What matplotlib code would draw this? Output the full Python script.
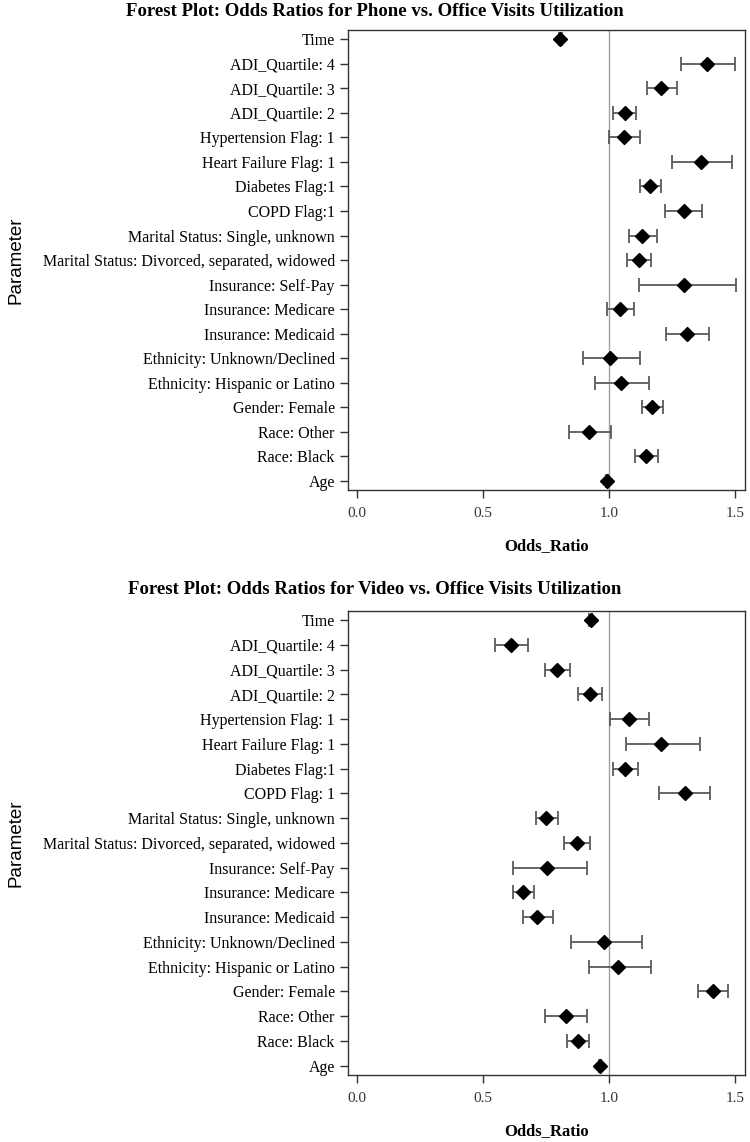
import numpy as np
import matplotlib
matplotlib.use("Agg")
import matplotlib.pyplot as plt

# parameters, top to bottom as shown
params = ["Time", "ADI_Quartile: 4", "ADI_Quartile: 3", "ADI_Quartile: 2",
          "Hypertension Flag: 1", "Heart Failure Flag: 1", "Diabetes Flag:1",
          "COPD Flag:1", "Marital Status: Single, unknown",
          "Marital Status: Divorced, separated, widowed", "Insurance: Self-Pay",
          "Insurance: Medicare", "Insurance: Medicaid",
          "Ethnicity: Unknown/Declined", "Ethnicity: Hispanic or Latino",
          "Gender: Female", "Race: Other", "Race: Black", "Age"]
params_video = list(params)
params_video[7] = "COPD Flag: 1"

# phone vs office
phone_or = [0.807, 1.390, 1.208, 1.062, 1.058, 1.367, 1.162, 1.296, 1.131, 1.117,
            1.298, 1.044, 1.308, 1.003, 1.046, 1.172, 0.919, 1.147, 0.992]
phone_lo = [0.800, 1.287, 1.150, 1.016, 1.000, 1.250, 1.121, 1.224, 1.078, 1.070,
            1.119, 0.990, 1.225, 0.897, 0.946, 1.132, 0.841, 1.102, 0.988]
phone_hi = [0.814, 1.502, 1.270, 1.109, 1.122, 1.490, 1.208, 1.368, 1.189, 1.166,
            1.505, 1.098, 1.397, 1.123, 1.159, 1.214, 1.007, 1.194, 0.996]

# video vs office
video_or = [0.927, 0.609, 0.795, 0.923, 1.081, 1.205, 1.064, 1.300, 0.751, 0.871,
            0.752, 0.657, 0.715, 0.980, 1.035, 1.412, 0.828, 0.877, 0.964]
video_lo = [0.920, 0.548, 0.747, 0.877, 1.004, 1.066, 1.017, 1.200, 0.708, 0.821,
            0.618, 0.617, 0.658, 0.850, 0.919, 1.353, 0.746, 0.833, 0.960]
video_hi = [0.934, 0.679, 0.845, 0.971, 1.160, 1.362, 1.114, 1.402, 0.797, 0.924,
            0.913, 0.700, 0.776, 1.130, 1.166, 1.473, 0.914, 0.922, 0.968]

serif = ["Liberation Serif", "DejaVu Serif"]

fig = plt.figure(figsize=(7.5, 11.42), dpi=100)
ax1 = fig.add_axes([0.464, 0.5709, 0.529, 0.4028])
ax2 = fig.add_axes([0.464, 0.0587, 0.529, 0.4065])

def forest(ax, labels, orr, lo, hi, title, title_y):
    n = len(labels)
    y = np.arange(n)[::-1]
    orr, lo, hi = np.array(orr), np.array(lo), np.array(hi)
    ax.axvline(1.0, color="#a0a0a0", lw=1.0, zorder=1)
    ax.errorbar(orr, y, xerr=[orr - lo, hi - orr], fmt="none", ecolor="#5a5a5a",
                elinewidth=1.3, capsize=5, capthick=1.3, zorder=2)
    ax.plot(orr, y, "D", color="black", ms=7.5, zorder=3)
    ax.set_ylim(-0.38, n - 1 + 0.38)
    ax.set_xlim(-0.037, 1.539)
    ax.set_yticks(y)
    ax.set_yticklabels(labels, fontfamily=serif, fontsize=11.5)
    ax.set_xticks([0.0, 0.5, 1.0, 1.5])
    ax.set_xticklabels(["0.0", "0.5", "1.0", "1.5"], fontfamily=serif, fontsize=11,
                       color="#333333")
    ax.tick_params(direction="out", length=6, width=1, color="#333333")
    ax.tick_params(axis="x", pad=6)
    for s in ax.spines.values():
        s.set_color("#333333")
        s.set_linewidth(1.0)
    ax.set_xlabel("Odds_Ratio", fontfamily=serif, fontsize=12, fontweight="bold",
                  labelpad=13)
    ax.set_ylabel("Parameter", fontfamily=["Liberation Sans", "DejaVu Sans"],
                  fontsize=13.5, va="center")
    ax.yaxis.set_label_coords(-0.838, 0.5)
    fig.text(0.5, title_y, title, fontfamily=serif, fontsize=13.5,
             fontweight="bold", ha="center", va="center")

forest(ax1, params, phone_or, phone_lo, phone_hi,
       "Forest Plot: Odds Ratios for Phone vs. Office Visits Utilization",
       1 - 12 / 1142)
forest(ax2, params_video, video_or, video_lo, video_hi,
       "Forest Plot: Odds Ratios for Video vs. Office Visits Utilization",
       1 - 590 / 1142)

fig.savefig("out.png", dpi=100)
